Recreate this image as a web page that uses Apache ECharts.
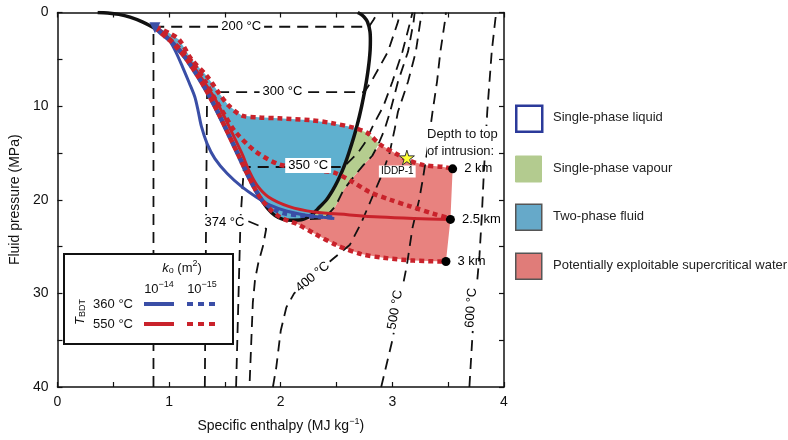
<!DOCTYPE html>
<html><head><meta charset="utf-8">
<script src="https://cdn.jsdelivr.net/npm/echarts@6/dist/echarts.min.js"></script>
<style>html,body{margin:0;padding:0;background:#fff}#c{width:788px;height:440px}</style>
</head><body><div id="c"></div>
<script>
// ---------------- DATA (specific enthalpy MJ/kg, fluid pressure MPa) ----------------
const saturationCurve = [[0.36,0],[0.45,0.05],[0.55,0.2],[0.65,0.5],[0.76,1.0],[0.85,1.55],[0.909,2],[1.008,3],[1.087,4],[1.155,5],[1.214,6],[1.267,7],[1.317,8],[1.364,9],[1.408,10],[1.45,11],[1.491,12],[1.531,13],[1.571,14],[1.611,15],[1.65,16],[1.69,17],[1.732,18],[1.776,19],[1.827,20],[1.888,21],[1.95,21.7],[2.02,22.1],[2.1,22.2],[2.2,22.1],[2.28,21.6],[2.33,21],[2.41,20],[2.465,19],[2.51,18],[2.548,17],[2.581,16],[2.61,15],[2.637,14],[2.662,13],[2.685,12],[2.706,11],[2.725,10],[2.742,9],[2.758,8],[2.772,7],[2.784,6],[2.794,5],[2.801,4],[2.803,3],[2.799,2],[2.777,1],[2.748,0.5],[2.72,0.2],[2.69,0]];

const iso200 = [[0.86,40],[0.86,1.52],[2.79,1.52],[2.83,0.8],[2.87,0]];
const iso300 = [[1.32,40],[1.34,8.5],[2.75,8.5],[2.81,7.4],[2.96,4.2],[3.05,1.0],[3.07,0]];
const iso350 = [[1.6,40],[1.64,22],[1.67,16.5],[2.564,16.5],[2.69,15],[2.75,14],[2.83,12],[2.92,10],[3.0,7.4],[3.09,4.2],[3.16,1],[3.18,0]];
const iso374Liquid = [[1.71,22.3],[1.87,23.1],[1.84,25],[1.8,26.7],[1.77,28.5],[1.75,31],[1.74,34],[1.72,40]];
const iso374Vapour = [[2.1,22.15],[2.39,22.0],[2.49,20.7],[2.56,19.0],[2.65,17.6],[2.74,16.3],[2.82,15.3],[2.87,14.2],[2.93,12.5],[2.98,10.6],[3.05,7.4],[3.14,4.2],[3.19,1],[3.2,0]];
const iso400 = [[1.93,40],[1.96,37.9],[2.0,34],[2.05,31.5],[2.12,30],[2.3,28],[2.48,26.2],[2.62,24.8],[2.72,22.5],[2.81,20],[2.9,17.5],[2.975,15],[3.02,12.5],[3.05,10.6],[3.14,7.4],[3.21,4.2],[3.25,1],[3.27,0]];
const iso500 = [[2.9,40],[2.94,38],[3.0,35],[3.05,31.8],[3.08,30],[3.13,27],[3.18,23],[3.24,20],[3.27,18],[3.31,15],[3.36,10.6],[3.4,7.4],[3.43,4.2],[3.47,1],[3.48,0]];
const iso600 = [[3.69,40],[3.7,38],[3.72,34],[3.75,30],[3.78,26],[3.8,22],[3.82,17],[3.85,10.6],[3.87,7.4],[3.89,4.2],[3.92,1],[3.93,0]];

const twoPhaseRegion = [[0.88,1.5],[1.0,2.2],[1.09,2.9],[1.2,5.0],[1.34,6.8],[1.44,8.5],[1.53,9.9],[1.65,11.0],[1.8,11.2],[1.98,11.3],[2.27,11.5],[2.45,11.8],[2.67,12.3],[2.662,13],[2.637,14],[2.61,15],[2.581,16],[2.548,17],[2.51,18],[2.465,19],[2.41,20],[2.33,21],[2.28,21.6],[2.2,22.1],[2.1,22.2],[2.02,22.1],[1.95,21.7],[1.888,21],[1.827,20],[1.776,19],[1.732,18],[1.69,17],[1.65,16],[1.611,15],[1.571,14],[1.531,13],[1.491,12],[1.45,11],[1.408,10],[1.364,9],[1.317,8],[1.267,7],[1.214,6],[1.155,5],[1.087,4],[1.008,3],[0.909,2]];
const vapourRegion = [[2.67,12.3],[2.78,12.9],[2.89,14.1],[2.87,14.2],[2.82,15.3],[2.74,16.3],[2.65,17.6],[2.56,19.0],[2.49,20.7],[2.39,22.0],[2.28,21.6],[2.33,21],[2.41,20],[2.465,19],[2.51,18],[2.548,17],[2.581,16],[2.61,15],[2.637,14],[2.662,13]];
const supercriticalRegion = [[2.02,22.1],[2.1,22.2],[2.39,22.0],[2.49,20.7],[2.56,19.0],[2.65,17.6],[2.74,16.3],[2.82,15.3],[2.89,14.1],[3.05,15.2],[3.13,15.7],[3.28,16.3],[3.46,16.5],[3.54,16.7],[3.52,22.1],[3.48,26.6],[3.19,26.5],[2.92,26.2],[2.72,25.8],[2.51,24.9],[2.3,23.6],[2.15,22.6],[2.08,22.3]];

// T_BDT 550 °C
const red14 = [[0.88,1.5],[1.02,3.0],[1.17,5.0],[1.29,7.0],[1.4,9.0],[1.49,11.0],[1.57,13.0],[1.65,15.0],[1.72,17.0],[1.79,18.5],[1.89,19.7],[2.07,20.7],[2.3,21.3],[2.6,21.6],[2.89,21.85],[3.19,22.0],[3.52,22.1]];
const red15Depth2 = [[0.88,1.5],[1.0,2.2],[1.09,2.9],[1.2,5.0],[1.34,6.8],[1.44,8.5],[1.53,9.9],[1.65,11.0],[1.8,11.2],[1.98,11.3],[2.27,11.5],[2.45,11.8],[2.65,12.3],[2.78,12.9],[2.89,14.1],[3.05,15.2],[3.13,15.7],[3.28,16.3],[3.46,16.5],[3.54,16.7]];
const red15Depth25 = [[0.88,1.5],[1.0,2.8],[1.11,4.0],[1.22,5.5],[1.32,7.3],[1.41,9.2],[1.5,11.0],[1.59,12.7],[1.77,14.8],[1.98,16.2],[2.18,16.6],[2.35,16.9],[2.48,17.1],[2.63,18.0],[2.8,19.2],[2.98,20.0],[3.16,20.7],[3.37,21.5],[3.52,22.0]];
const red15Depth3 = [[0.88,1.5],[0.909,2],[1.008,3],[1.087,4],[1.155,5],[1.267,7],[1.364,9],[1.45,11],[1.531,13],[1.611,15],[1.69,17],[1.776,19],[1.83,20],[1.92,21.2],[2.0,21.9],[2.08,22.3],[2.15,22.6],[2.3,23.6],[2.51,24.9],[2.72,25.8],[2.92,26.2],[3.19,26.5],[3.48,26.6]];
// T_BDT 360 °C
const blue14 = [[0.88,1.5],[0.95,2.2],[1.0,2.9],[1.06,4.2],[1.12,5.8],[1.18,7.5],[1.23,9.0],[1.26,10.5],[1.29,12.2],[1.34,14.0],[1.41,15.6],[1.52,17.2],[1.65,18.6],[1.78,19.7],[1.91,20.6],[2.05,21.2],[2.2,21.6],[2.35,21.85],[2.48,22.0]];
const blue15 = [[0.88,1.5],[0.909,2],[1.008,3],[1.087,4],[1.155,5],[1.267,7],[1.364,9],[1.45,11],[1.531,13],[1.611,15],[1.69,17],[1.776,19],[1.85,20.3],[1.95,21.1],[2.05,21.5],[2.2,21.7],[2.35,21.8],[2.48,21.9]];
const startPoint = [[0.873,1.63]];

const depthPoints = [[3.54,16.7],[3.52,22.1],[3.48,26.6]];
const depthLabels = ['2 km','2.5 km','3 km'];
const wellIDDP1 = [[3.13,15.5]];

// annotations (text anchors)
const isoLabels = ['200 °C','300 °C','350 °C','374 °C','400 °C','500 °C','600 °C'];
const isoLabelAt = [[1.65,1.5],[2.02,8.45],[2.25,16.4],[1.5,22.5],[2.29,28.3],[3.03,31.8],[3.71,31.6]];
const isoLabelRot = [0,0,0,0,40,80,86];

// ---------------- CHART ----------------
const FONT = '"Liberation Sans", Arial, Helvetica, sans-serif';
const RED = '#c9222b', BLUE = '#3a4ea6', BLACK = '#111';
const C_BLUE = '#5fb0cf', C_GREEN = '#b5cd8f', C_PINK = '#e8827f';

function poly(points, fill, z) {
  return { type: 'custom', coordinateSystem: 'cartesian2d', silent: true, z,
    data: [points[0]],
    renderItem: (params, api) => ({ type: 'polygon',
      shape: { points: points.map(p => api.coord(p)) }, style: { fill: fill } }) };
}
function line(data, color, width, type, z, smooth, dashOffset) {
  return { type: 'line', data, symbol: 'none', showSymbol: false, smooth: smooth || false, z, silent: true,
    lineStyle: { color, width, type, dashOffset: dashOffset || 0, cap: 'butt', join: 'round' } };
}
const DASH = [11, 7];
const DOT = [5, 4];

const axisLineStyle = { color: BLACK, width: 1.5 };
const tickStyle = { color: BLACK, width: 1.2 };
function xAx(pos, withLabel) {
  return { type: 'value', min: 0, max: 4, interval: 1, position: pos,
    axisLine: { show: true, onZero: false, lineStyle: axisLineStyle },
    axisTick: { show: true, inside: true, length: 5, lineStyle: tickStyle },
    minorTick: { show: true, splitNumber: 2, length: 5, lineStyle: tickStyle },
    splitLine: { show: false }, minorSplitLine: { show: false },
    axisLabel: { show: withLabel, fontSize: 14, color: BLACK, margin: 8, fontFamily: FONT },
    name: withLabel ? 'Specific enthalpy (MJ kg{sup|−1})' : '', nameLocation: 'middle', nameGap: 30,
    nameTextStyle: { fontSize: 14, color: BLACK, fontFamily: FONT, lineHeight: 18,
      rich: { sup: { fontSize: 9, lineHeight: 10, verticalAlign: 'top', fontFamily: FONT, color: BLACK } } } };
}
function yAx(pos, withLabel) {
  return { type: 'value', min: 0, max: 40, interval: 10, inverse: true, position: pos,
    axisLine: { show: true, onZero: false, lineStyle: axisLineStyle },
    axisTick: { show: true, inside: true, length: 5, lineStyle: tickStyle },
    minorTick: { show: true, splitNumber: 2, length: 5, lineStyle: tickStyle },
    splitLine: { show: false }, minorSplitLine: { show: false },
    axisLabel: { show: withLabel, fontSize: 14, color: BLACK, margin: 9, fontFamily: FONT },
    name: withLabel ? 'Fluid pressure (MPa)' : '', nameLocation: 'middle', nameGap: 28, nameRotate: 90,
    nameTextStyle: { fontSize: 14, color: BLACK, fontFamily: FONT } };
}

const series = [
  poly(supercriticalRegion, C_PINK, 1),
  poly(vapourRegion, C_GREEN, 1),
  poly(twoPhaseRegion, C_BLUE, 1),
  line(iso200, BLACK, 1.8, DASH, 3),
  line(iso300, BLACK, 1.8, DASH, 3),
  line(iso350, BLACK, 1.8, DASH, 3),
  line(iso374Liquid, BLACK, 1.8, DASH, 3),
  line(iso374Vapour, BLACK, 1.8, DASH, 3),
  line(iso400, BLACK, 1.8, DASH, 3),
  line(iso500, BLACK, 1.8, DASH, 3),
  line(iso600, BLACK, 1.8, DASH, 3),
  line(saturationCurve, BLACK, 3.5, 'solid', 4, 0.3),
  line(blue14, BLUE, 3, 'solid', 5, 0.3),
  line(red14, RED, 3, 'solid', 5, 0.3),
  line(blue15, BLUE, 4.5, DOT, 6, 0.3, 4.5),
  line(red15Depth3, RED, 4.5, DOT, 6, 0.3),
  line(red15Depth25, RED, 4.5, DOT, 6, 0.3),
  line(red15Depth2, RED, 4.5, DOT, 6, 0.3),
  { type: 'scatter', data: startPoint, symbol: 'triangle', symbolRotate: 180, symbolSize: 11, z: 7, silent: true,
    itemStyle: { color: BLUE, opacity: 1 } },
  { type: 'scatter', data: depthPoints.map((p, i) => ({ value: p, label: { formatter: depthLabels[i] } })),
    symbol: 'circle', symbolSize: 9, z: 8, silent: true, itemStyle: { color: '#000', opacity: 1 },
    label: { show: true, position: 'right', distance: 7, fontSize: 13, color: '#000', fontFamily: FONT } },
  { type: 'scatter', data: wellIDDP1, z: 9, silent: true,
    symbol: 'path://M50,0 L61,35 L98,35 L68,57 L79,91 L50,70 L21,91 L32,57 L2,35 L39,35 Z',
    symbolSize: 15, itemStyle: { color: '#ffff33', borderColor: '#333', borderWidth: 1, opacity: 1 },
    label: { show: true, formatter: 'IDDP-1', position: [-20, 16], fontSize: 10, color: '#000', fontFamily: FONT,
      backgroundColor: '#fff', padding: [1, 2] } },
  { type: 'scatter', z: 9, silent: true, symbolSize: 1, itemStyle: { color: 'rgba(255,255,255,0)', opacity: 1 },
    data: isoLabelAt.map((p, i) => ({ value: p, label: { formatter: isoLabels[i], rotate: isoLabelRot[i] } })),
    label: { show: true, position: [0, 0], align: 'center', verticalAlign: 'middle', fontSize: 13, color: '#000',
      textBorderWidth: 0, fontFamily: FONT, backgroundColor: '#fff', padding: [1, 3] } }
];

const chart = echarts.init(document.getElementById('c'), null, { renderer: 'canvas' });
const legendX = 515, legendText = 553;
const legendItems = [
  { y: 104.5, fill: '#fff', stroke: '#2b3a9a', lw: 2.5, text: 'Single-phase liquid' },
  { y: 155.5, fill: '#b3cb8f', stroke: '#b3cb8f', lw: 1, text: 'Single-phase vapour' },
  { y: 203.5, fill: '#66a9c9', stroke: '#555', lw: 1.5, text: 'Two-phase fluid' },
  { y: 252.5, fill: '#e07c79', stroke: '#555', lw: 1.5, text: 'Potentially exploitable supercritical water' }
];
const graphic = [];
legendItems.forEach(it => {
  graphic.push({ type: 'rect', left: legendX, top: it.y, shape: { width: 26, height: 26 },
    style: { fill: it.fill, stroke: it.stroke, lineWidth: it.lw }, z: 10 });
  graphic.push({ type: 'text', left: legendText, top: it.y + 6,
    style: { text: it.text, fontSize: 13, fill: '#222', fontFamily: FONT }, z: 10 });
});
// depth text
graphic.push({ type: 'text', left: 427, top: 126, z: 10,
  style: { text: 'Depth to top\nof intrusion:', fontSize: 13, lineHeight: 17, fill: BLACK, fontFamily: FONT,
    backgroundColor: '#fff' } });
// inner legend box
graphic.push({ type: 'rect', left: 63, top: 253, shape: { width: 169, height: 90 },
  style: { fill: '#fff', stroke: BLACK, lineWidth: 2 }, z: 20 });
const rich = {
  i: { fontStyle: 'italic', fontSize: 13, fontFamily: FONT, lineHeight: 16, verticalAlign: 'bottom' },
  sub: { fontSize: 9, fontFamily: FONT, lineHeight: 10, verticalAlign: 'bottom' },
  sup: { fontSize: 9, fontFamily: FONT, lineHeight: 10, verticalAlign: 'top' },
  n: { fontSize: 13, fontFamily: FONT, lineHeight: 16, verticalAlign: 'bottom' }
};
graphic.push({ type: 'text', x: 182, y: 267, z: 21,
  style: { text: '{i|k}{sub|o}{n| (m}{sup|2}{n|)}', rich, fill: BLACK, align: 'center', verticalAlign: 'middle' } });
graphic.push({ type: 'text', x: 159, y: 288, z: 21,
  style: { text: '{n|10}{sup|−14}', rich, fill: BLACK, align: 'center', verticalAlign: 'middle' } });
graphic.push({ type: 'text', x: 202, y: 288, z: 21,
  style: { text: '{n|10}{sup|−15}', rich, fill: BLACK, align: 'center', verticalAlign: 'middle' } });
graphic.push({ type: 'text', x: 133, y: 304, z: 21,
  style: { text: '360 °C', fontSize: 13, fontFamily: FONT, fill: BLACK, align: 'right', verticalAlign: 'middle' } });
graphic.push({ type: 'text', x: 133, y: 324, z: 21,
  style: { text: '550 °C', fontSize: 13, fontFamily: FONT, fill: BLACK, align: 'right', verticalAlign: 'middle' } });
graphic.push({ type: 'text', x: 79, y: 312, rotation: Math.PI / 2, z: 21,
  style: { text: '{i|T}{sub|BDT}', rich, fill: BLACK, align: 'center', verticalAlign: 'middle' } });
[[304, BLUE], [324, RED]].forEach(([y, c]) => {
  graphic.push({ type: 'line', z: 21, shape: { x1: 144, y1: y, x2: 174, y2: y }, style: { stroke: c, lineWidth: 4 } });
  graphic.push({ type: 'line', z: 21, shape: { x1: 187, y1: y, x2: 218, y2: y }, style: { stroke: c, lineWidth: 4, lineDash: [6, 5] } });
});

chart.setOption({
  animation: false,
  backgroundColor: '#fff',
  grid: { left: 55, top: 12.5, width: 449, height: 381, containLabel: false },
  xAxis: [xAx('bottom', true), xAx('top', false)],
  yAxis: [yAx('left', true), yAx('right', false)],
  series,
  graphic
});
</script>
</body></html>
